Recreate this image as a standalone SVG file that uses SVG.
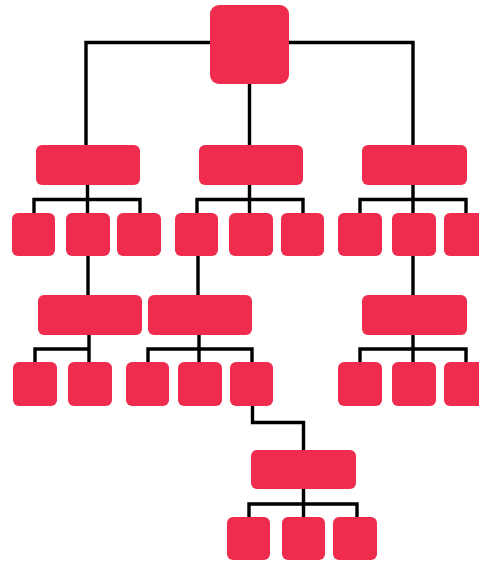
<svg xmlns="http://www.w3.org/2000/svg" width="479" height="562" viewBox="0 0 479 562">
<style>
.n{fill:#ef2c4e}
.c{fill:none;stroke:#000;stroke-width:3.4}
</style>
<rect width="479" height="562" fill="#fff"/>
<g id="connectors" class="c">
<path d="M86 145V42.5H413V145M249.5 84V145"/>
<path d="M34 213V199.5H140V213M87.5 185V213"/>
<path d="M197 213V199.5H303V213M249.5 185V213"/>
<path d="M360 213V199.5H466V213M413 185V213"/>
<path d="M88 256V295M198 256V295M413 256V295"/>
<path d="M35 362V349H89V362M89 335V362"/>
<path d="M148 362V349H252V362M199 335V362"/>
<path d="M360 362V349H466V362M413 335V362"/>
<path d="M252.5 406V422.5H303.5V450"/>
<path d="M249 517V504H357V517M303.5 489V517"/>
</g>
<g id="n0"><rect class="n" x="210" y="5" width="79" height="79" rx="9"/></g>
<g id="n1"><rect class="n" x="36" y="145" width="104" height="40" rx="6"/></g>
<g id="n2"><rect class="n" x="199" y="145" width="104" height="40" rx="6"/></g>
<g id="n3"><rect class="n" x="362" y="145" width="105" height="40" rx="6"/></g>
<g id="n4"><rect class="n" x="12" y="213" width="43" height="43" rx="6"/></g>
<g id="n5"><rect class="n" x="66" y="213" width="44" height="43" rx="6"/></g>
<g id="n6"><rect class="n" x="117" y="213" width="44" height="43" rx="6"/></g>
<g id="n7"><rect class="n" x="175" y="213" width="43" height="43" rx="6"/></g>
<g id="n8"><rect class="n" x="229" y="213" width="44" height="43" rx="6"/></g>
<g id="n9"><rect class="n" x="281" y="213" width="43" height="43" rx="6"/></g>
<g id="n10"><rect class="n" x="338" y="213" width="44" height="43" rx="6"/></g>
<g id="n11"><rect class="n" x="392" y="213" width="44" height="43" rx="6"/></g>
<g id="n12"><rect class="n" x="444" y="213" width="44" height="43" rx="6"/></g>
<g id="n13"><rect class="n" x="38" y="295" width="104" height="40" rx="6"/></g>
<g id="n14"><rect class="n" x="148" y="295" width="104" height="40" rx="6"/></g>
<g id="n15"><rect class="n" x="362" y="295" width="105" height="40" rx="6"/></g>
<g id="n16"><rect class="n" x="13" y="362" width="44" height="44" rx="6"/></g>
<g id="n17"><rect class="n" x="68" y="362" width="44" height="44" rx="6"/></g>
<g id="n18"><rect class="n" x="126" y="362" width="43" height="44" rx="6"/></g>
<g id="n19"><rect class="n" x="178" y="362" width="44" height="44" rx="6"/></g>
<g id="n20"><rect class="n" x="230" y="362" width="43" height="44" rx="6"/></g>
<g id="n21"><rect class="n" x="338" y="362" width="44" height="44" rx="6"/></g>
<g id="n22"><rect class="n" x="392" y="362" width="44" height="44" rx="6"/></g>
<g id="n23"><rect class="n" x="444" y="362" width="44" height="44" rx="6"/></g>
<g id="n24"><rect class="n" x="251" y="450" width="105" height="39" rx="6"/></g>
<g id="n25"><rect class="n" x="227" y="517" width="43" height="43" rx="6"/></g>
<g id="n26"><rect class="n" x="282" y="517" width="43" height="43" rx="6"/></g>
<g id="n27"><rect class="n" x="333" y="517" width="44" height="43" rx="6"/></g>
</svg>
